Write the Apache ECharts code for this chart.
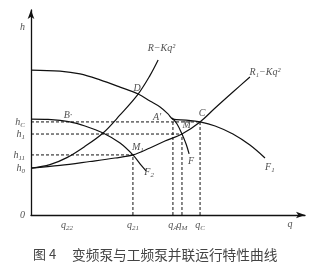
<!DOCTYPE html>
<html><head><meta charset="utf-8">
<script src="https://cdn.jsdelivr.net/npm/echarts@6/dist/echarts.min.js"></script>
<style>html,body{margin:0;padding:0;background:#fff}#c{width:312px;height:269px}</style>
</head><body><div id="c"></div>
<script>
// ---- data (q, h) in chart units ----
const pumpF1 = [[0,70.7],[10.6,70.2],[17.9,68.8],[25.2,65.9],[32.5,62.4],[39.1,59.0],[43.4,55.6],[47.1,52.7],[50.0,49.3],[51.8,46.8],[56.6,46.3],[61.7,45.4],[67.2,43.4],[73.7,39.5],[79.9,34.1],[85.4,27.8]];
const pumpF2 = [[0,46.8],[6.2,46.6],[14.2,45.4],[19.7,43.4],[26.3,40.0],[32.5,35.1],[37.2,29.3],[40.1,24.4],[42.0,21.5]];
const pumpF = [[51.5,47.3],[53.3,44.4],[55.1,39.5],[56.6,34.6],[57.7,29.8]];
const systemR = [[0,22.9],[6.9,24.6],[13.1,28.0],[19.7,33.5],[26.3,40.0],[32.5,48.8],[39.1,59.0],[43.4,68.0],[46.4,75.6]];
const systemR1 = [[0,22.9],[10.6,24.2],[21.5,26.1],[30.7,27.8],[37.2,29.3],[43.4,32.7],[48.9,36.1],[55.1,39.5],[61.7,45.4],[67.2,52.2],[73.7,60.0],[79.9,67.3]];
// key points
const ptA = [51.8,46.8], ptC = [61.7,45.4], ptM = [55.1,39.5], ptM1 = [37.2,29.3];
// y tick labels: value, main, sub
const yTicks = [[45.4,'h','C'],[39.5,'h','1'],[29.3,'h','11'],[22.9,'h','0'],[0,'0',''],[91.7,'h','']];
// x tick labels
const xTicks = [[13.1,'q','22'],[37.2,'q','21'],[51.8,'q','A'],[55.1,'q','M'],[61.7,'q','C'],[94.5,'q','']];
// curve / point labels: q, h, main, sub
const pointLabels = [[38.7,62.0,'D',''],[62.4,49.8,'C',''],[46.0,47.8,'A′',''],[56.8,43.9,'M',''],[39.0,32.9,'M','1'],[13.5,48.8,'B·',''],[43.1,21.0,'F','2'],[58.4,26.3,'F',''],[87.2,23.4,'F','1'],[47.6,81.5,'R−Kq²',''],[85.4,69.8,'R₁−Kq²','']];
const caption1 = '图 4', caption2 = '变频泵与工频泵并联运行特性曲线';

const rich = {m:{fontFamily:'Liberation Serif',fontStyle:'italic',fontSize:10,color:'#222'},
              s:{fontFamily:'Liberation Serif',fontStyle:'italic',fontSize:7,color:'#222',verticalAlign:'bottom',padding:[6,0,0,0]}};
const fmt = (m,s)=> s ? '{m|'+m+'}{s|'+s+'}' : '{m|'+m+'}';
const lineStyle = {color:'#111',width:1.2};
const dash = {color:'#111',width:1,type:[3,2]};
function curve(d){return {type:'line',data:d,smooth:0.35,showSymbol:false,lineStyle:lineStyle,silent:true,z:3};}
function dline(d){return {type:'line',data:d,showSymbol:false,lineStyle:dash,silent:true,z:2};}

const chart = echarts.init(document.getElementById('c'),null,{renderer:'canvas'});
chart.setOption({
  animation:false,
  grid:{left:31,right:7,top:10,bottom:54},
  xAxis:{type:'value',min:0,max:100,axisLine:{lineStyle:{color:'#111',width:1.3},symbol:['none','arrow'],symbolSize:[5,9]},axisTick:{show:false},axisLabel:{show:false},splitLine:{show:false}},
  yAxis:{type:'value',min:0,max:100,axisLine:{lineStyle:{color:'#111',width:1.3},symbol:['none','arrow'],symbolSize:[5,9]},axisTick:{show:false},axisLabel:{show:false},splitLine:{show:false}},
  series:[
    curve(pumpF1),curve(pumpF2),curve(pumpF),curve(systemR),curve(systemR1),
    dline([[0,ptC[1]],ptC]),
    dline([[0,ptM[1]],ptM]),
    dline([[0,ptM1[1]],ptM1]),
    dline([[ptM1[0],0],ptM1]),
    dline([[ptA[0],0],ptA]),
    dline([[ptM[0],0],ptM]),
    dline([[ptC[0],0],ptC]),
    {type:'scatter',symbolSize:0,silent:true,data:yTicks.map(t=>({value:[0,t[0]],label:{formatter:fmt(t[1],t[2])}})),
      label:{show:true,position:'left',distance:6,rich:rich}},
    {type:'scatter',symbolSize:0,silent:true,data:xTicks.map(t=>({value:[t[0],0],label:{formatter:fmt(t[1],t[2])}})),
      label:{show:true,position:'bottom',distance:4,rich:rich}},
    {type:'scatter',symbolSize:0,silent:true,data:pointLabels.map(t=>({value:[t[0],t[1]],label:{formatter:fmt(t[2],t[3])}})),
      label:{show:true,position:'inside',rich:rich}}
  ],
  graphic:[
    {type:'text',left:33,top:248,style:{text:caption1,font:'13px "Noto Sans CJK SC"',fill:'#444'}},
    {type:'text',left:72,top:248,style:{text:caption2,font:'13.7px "Noto Sans CJK SC"',fill:'#444'}}
  ]
});
</script></body></html>
